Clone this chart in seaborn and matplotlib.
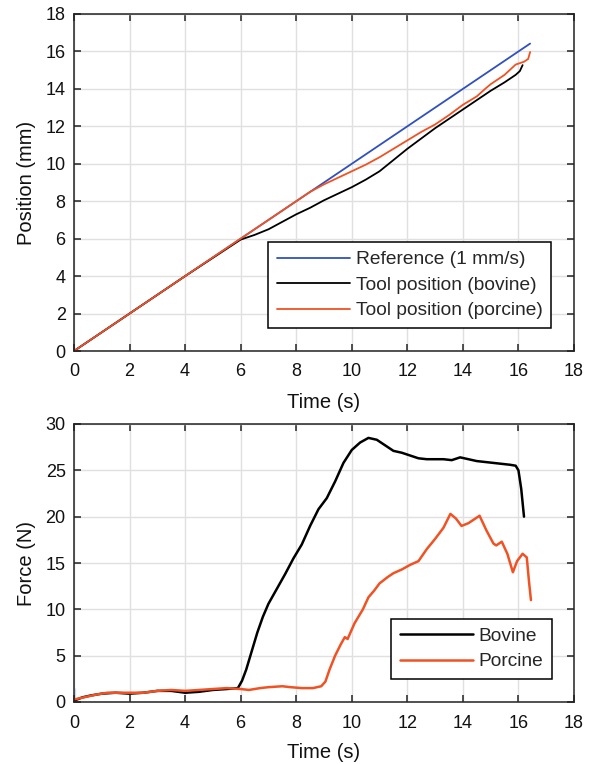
import numpy as np
import pandas as pd
import seaborn as sns
import matplotlib.pyplot as plt

# Position (mm) vs time (s)
t_ref = [0, 16.42]
pos_ref = [0, 16.42]

t_bov = [0, 2, 4, 6, 6.5, 7, 7.5, 8, 8.5, 9, 9.5, 10, 10.5, 11, 11.5, 12, 12.5, 13, 13.5,
         14, 14.5, 15, 15.5, 15.9, 16.05, 16.15]
pos_bov = [0, 2, 4, 5.95, 6.2, 6.5, 6.9, 7.3, 7.65, 8.05, 8.4, 8.75, 9.15, 9.6, 10.2, 10.8,
           11.35, 11.9, 12.4, 12.9, 13.4, 13.9, 14.35, 14.75, 14.95, 15.27]

t_por = [0, 2, 4, 6, 7, 8, 8.5, 9, 9.5, 10, 10.5, 11, 11.5, 12, 12.5, 13, 13.5, 14, 14.5,
         14.8, 15, 15.5, 15.9, 16.2, 16.35, 16.42]
pos_por = [0, 2, 4, 6, 7, 8, 8.5, 8.9, 9.25, 9.6, 9.95, 10.35, 10.8, 11.25, 11.7, 12.1, 12.6,
           13.15, 13.6, 14.0, 14.25, 14.75, 15.3, 15.45, 15.6, 15.97]

# Force (N) vs time (s)
tf_bov = [0.05, 0.3, 0.6, 1, 1.5, 2, 2.5, 3, 3.5, 4, 4.5, 5, 5.5, 5.9, 6.05, 6.2, 6.4, 6.6,
          6.8, 7.0, 7.3, 7.6, 7.9, 8.2, 8.5, 8.8, 9.1, 9.4, 9.7, 10.0, 10.3, 10.6, 10.9, 11.2,
          11.5, 11.8, 12.1, 12.4, 12.7, 13.0, 13.3, 13.6, 13.9, 14.2, 14.5, 14.8, 15.1, 15.4,
          15.7, 15.9, 16.0, 16.05, 16.1, 16.15, 16.2]
f_bov = [0.2, 0.5, 0.7, 0.9, 1.0, 0.9, 1.0, 1.2, 1.2, 1.0, 1.1, 1.3, 1.4, 1.5, 2.3, 3.5, 5.5,
         7.5, 9.2, 10.6, 12.2, 13.8, 15.5, 17.0, 19.0, 20.8, 22.0, 23.8, 25.8, 27.2, 28.0, 28.5,
         28.3, 27.7, 27.1, 26.9, 26.6, 26.3, 26.2, 26.2, 26.2, 26.1, 26.4, 26.2, 26.0, 25.9, 25.8,
         25.7, 25.6, 25.5, 25.0, 24.0, 23.0, 21.5, 20.0]

tf_por = [0.05, 0.2, 0.5, 0.8, 1.2, 1.6, 2, 2.5, 3, 3.5, 4, 4.5, 5, 5.5, 6, 6.3, 6.7, 7, 7.5,
          7.8, 8.2, 8.6, 8.9, 9.05, 9.2, 9.4, 9.6, 9.75, 9.85, 10.1, 10.4, 10.6, 10.8, 11.0,
          11.3, 11.5, 11.8, 12.1, 12.4, 12.7, 13.0, 13.3, 13.55, 13.75, 13.95, 14.2, 14.45,
          14.6, 14.85, 15.1, 15.2, 15.4, 15.6, 15.8, 15.95, 16.15, 16.3, 16.38, 16.45]
f_por = [0.3, 0.4, 0.6, 0.8, 1.0, 1.0, 1.0, 1.0, 1.2, 1.3, 1.2, 1.3, 1.4, 1.5, 1.4, 1.3, 1.5,
         1.6, 1.7, 1.6, 1.5, 1.5, 1.7, 2.2, 3.5, 5.0, 6.2, 7.0, 6.8, 8.5, 10.0, 11.3, 12.0,
         12.8, 13.5, 13.9, 14.3, 14.8, 15.2, 16.5, 17.6, 18.8, 20.3, 19.8, 19.0, 19.3, 19.8,
         20.1, 18.5, 17.1, 16.9, 17.3, 16.0, 14.0, 15.2, 16.0, 15.6, 13.0, 11.0]

tf_ref = [0.05, 0.05]
f_ref = [0, 1.5]

BLUE = '#3050c0'
ORANGE = '#f05224'

sns.set_theme(style='whitegrid')
plt.rcParams['font.family'] = ['Liberation Sans', 'DejaVu Sans']

fig = plt.figure(figsize=(5.93, 7.64), dpi=100)
ax1 = fig.add_axes([74 / 593, 413 / 764, 500 / 593, 337 / 764])
ax2 = fig.add_axes([74 / 593, 62 / 764, 500 / 593, 278 / 764])

sns.lineplot(x=t_ref, y=pos_ref, ax=ax1, color=BLUE, lw=1.3, label='Reference (1 mm/s)', sort=False)
sns.lineplot(x=t_bov, y=pos_bov, ax=ax1, color='black', lw=1.3, label='Tool position (bovine)', sort=False)
sns.lineplot(x=t_por, y=pos_por, ax=ax1, color=ORANGE, lw=1.3, label='Tool position (porcine)', sort=False)

sns.lineplot(x=tf_ref, y=f_ref, ax=ax2, color=BLUE, lw=1.5, sort=False, legend=False)
sns.lineplot(x=tf_bov, y=f_bov, ax=ax2, color='black', lw=1.8, label='Bovine', sort=False)
sns.lineplot(x=tf_por, y=f_por, ax=ax2, color=ORANGE, lw=1.8, label='Porcine', sort=False)

for ax, ymax, ystep, ylab, hpx in [(ax1, 18, 2, 'Position (mm)', 337), (ax2, 30, 5, 'Force (N)', 278)]:
    ax.set_xlim(0, 18)
    ax.set_ylim(0, ymax)
    ax.set_xticks(np.arange(0, 19, 2))
    ax.set_yticks(np.arange(0, ymax + 1, ystep))
    ax.set_xlabel('Time (s)', fontsize=14.5, va='center', color='#111111')
    ax.set_ylabel(ylab, fontsize=14.5, va='center', color='#111111')
    ax.xaxis.set_label_coords(0.5, -51 / hpx)
    ax.yaxis.set_label_coords(-48 / 500, 0.5)
    ax.grid(True, color='#e0e0e0', lw=1.0)
    for s in ax.spines.values():
        s.set_visible(True)
        s.set_color('#222222')
        s.set_linewidth(1.1)
    ax.tick_params(direction='in', length=5, width=1.1, top=True, right=True,
                   bottom=True, left=True, colors='#222222', labelsize=13)
    ax.tick_params(axis='x', pad=9)
    ax.tick_params(axis='y', pad=6)
    ax.tick_params(labelcolor='#111111')

leg1 = ax1.legend(loc='lower right', bbox_to_anchor=(477 / 500, 23 / 337), borderaxespad=0,
                  frameon=True, fancybox=False, edgecolor='black', framealpha=1, fontsize=13.8,
                  handlelength=3.8, borderpad=0.45, labelspacing=0.42, handletextpad=0.3)
leg1.get_frame().set_linewidth(1.1)
leg2 = ax2.legend(loc='lower right', bbox_to_anchor=(478 / 500, 23 / 278), borderaxespad=0,
                  frameon=True, fancybox=False, edgecolor='black', framealpha=1, fontsize=13.8,
                  handlelength=3.8, borderpad=0.45, labelspacing=0.42, handletextpad=0.3)
leg2.get_frame().set_linewidth(1.1)

plt.savefig('out.png', dpi=100)
